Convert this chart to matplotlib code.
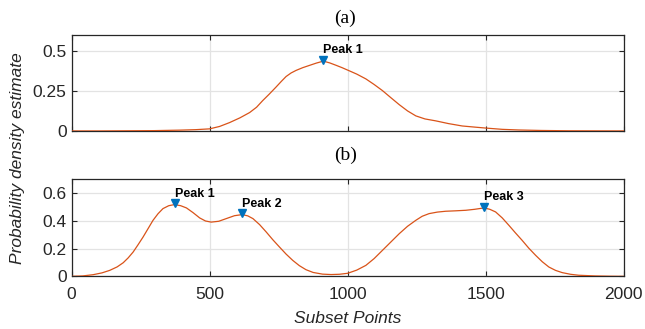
import numpy as np
import matplotlib
matplotlib.use('Agg')
import matplotlib.pyplot as plt

# panel (a): density
xa = [0, 100, 200, 300, 392, 450, 500, 536, 572, 610, 645, 670, 692, 716, 740,
      760, 777, 795, 813, 837, 861, 887, 912, 935, 958, 980, 1000, 1033, 1066,
      1096, 1126, 1157, 1187, 1217, 1247, 1280, 1319, 1365, 1415, 1460, 1500,
      1560, 1620, 1700, 1800, 2000]
ya = [0.0, 0.0, 0.001, 0.002, 0.005, 0.008, 0.013, 0.028, 0.052, 0.082, 0.115,
      0.148, 0.189, 0.23, 0.273, 0.31, 0.34, 0.362, 0.378, 0.395, 0.409, 0.424,
      0.436, 0.425, 0.41, 0.395, 0.38, 0.355, 0.325, 0.29, 0.252, 0.207, 0.164,
      0.125, 0.094, 0.075, 0.063, 0.046, 0.031, 0.024, 0.018, 0.01, 0.006,
      0.003, 0.001, 0.0]

# panel (b)
xb = [0, 40, 78, 110, 138, 165, 187, 205, 223, 241, 259, 277, 295, 313, 331,
      352, 373, 395, 416, 440, 464, 485, 506, 533, 560, 590, 618, 638, 657,
      681, 705, 729, 753, 777, 801, 825, 849, 875, 909, 940, 970, 1000, 1033,
      1066, 1096, 1126, 1157, 1187, 1217, 1247, 1270, 1295, 1325, 1355, 1390,
      1428, 1460, 1494, 1515, 1536, 1560, 1584, 1608, 1632, 1656, 1681, 1705,
      1729, 1753, 1777, 1807, 1837, 1897, 1950, 2000]
yb = [0.0, 0.003, 0.012, 0.025, 0.043, 0.068, 0.098, 0.133, 0.175, 0.228, 0.283,
      0.343, 0.403, 0.45, 0.487, 0.508, 0.516, 0.508, 0.492, 0.458, 0.42, 0.398,
      0.39, 0.396, 0.415, 0.436, 0.444, 0.435, 0.415, 0.372, 0.319, 0.263,
      0.211, 0.16, 0.115, 0.077, 0.048, 0.028, 0.016, 0.013, 0.015, 0.022,
      0.045, 0.079, 0.128, 0.187, 0.248, 0.307, 0.36, 0.403, 0.432, 0.451,
      0.462, 0.468, 0.471, 0.475, 0.482, 0.492, 0.482, 0.463, 0.42, 0.367,
      0.312, 0.259, 0.203, 0.151, 0.105, 0.067, 0.043, 0.027, 0.015, 0.008,
      0.003, 0.001, 0.0]

peaks_a = [912]
peaks_b = [373, 618, 1494]

line_col = '#D95319'
mark_col = '#0072BD'
txt_col = '#262626'

plt.rcParams['font.family'] = ['Liberation Sans', 'DejaVu Sans']

fig = plt.figure(figsize=(6.45, 3.29), dpi=100)
ax1 = fig.add_axes([0.111, 0.602, 0.856, 0.292])
ax2 = fig.add_axes([0.111, 0.160, 0.856, 0.296])


def style(ax, ylim, yticks, ylabels, xlabels=True):
    ax.set_xlim(0, 2000)
    ax.set_ylim(*ylim)
    ax.set_xticks([0, 500, 1000, 1500, 2000])
    ax.set_yticks(yticks)
    ax.set_yticklabels(ylabels)
    if not xlabels:
        ax.set_xticklabels([])
    ax.grid(True, color='#e3e3e3', linewidth=0.9)
    ax.set_axisbelow(True)
    ax.tick_params(direction='in', length=3.5, width=0.8, colors=txt_col,
                   labelsize=12.5, top=True, right=True)
    ax.tick_params(axis='x', pad=8)
    ax.tick_params(axis='y', pad=3.5)
    for s in ax.spines.values():
        s.set_color(txt_col)
        s.set_linewidth(0.9)


def draw(ax, x, y, peaks, names):
    ax.plot(x, y, color=line_col, linewidth=0.9, zorder=3)
    for p, n in zip(peaks, names):
        py = y[x.index(p)]
        ax.plot(p, py + 0.008, 'v', color=mark_col, markersize=5.5, zorder=4)
        ax.annotate(n, (p, py), xytext=(0, 5.5), textcoords='offset points',
                    ha='left', va='baseline', fontsize=9, fontweight='bold',
                    color='black', zorder=5)


draw(ax1, xa, ya, peaks_a, ['Peak 1'])
draw(ax2, xb, yb, peaks_b, ['Peak 1', 'Peak 2', 'Peak 3'])

style(ax1, (0, 0.6), [0, 0.25, 0.5], ['0', '0.25', '0.5'], xlabels=False)
style(ax2, (0, 0.7), [0, 0.2, 0.4, 0.6], ['0', '0.2', '0.4', '0.6'])

fig.text(0.535, 0.945, '(a)', ha='center', va='center', fontsize=14,
         family='Liberation Serif', color='black')
fig.text(0.535, 0.529, '(b)', ha='center', va='center', fontsize=14,
         family='Liberation Serif', color='black')
fig.text(0.027, 0.518, 'Probability density estimate', rotation=90,
         ha='center', va='center', fontsize=12.5, style='italic', color=txt_col)
fig.text(0.539, 0.033, 'Subset Points', ha='center', va='center',
         fontsize=12.5, style='italic', color=txt_col)

fig.savefig('out.png', dpi=100)
